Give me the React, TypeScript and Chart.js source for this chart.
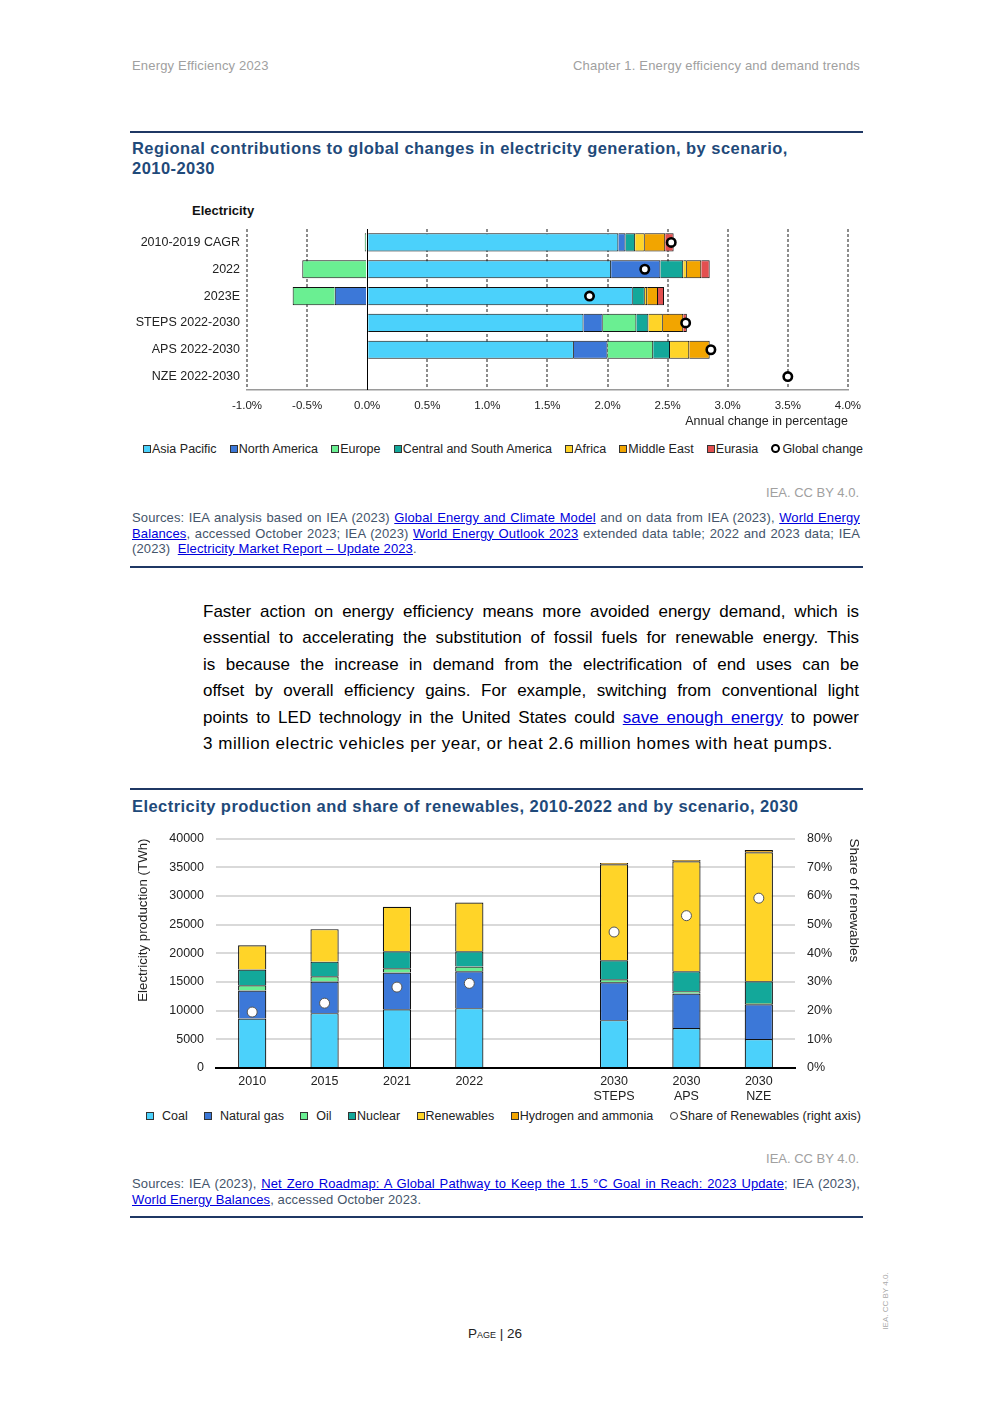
import React, { useEffect, useRef } from 'react';
import { Chart, registerables } from 'chart.js';

Chart.register(...registerables);

const FONT = '"Liberation Sans", Arial, Helvetica, sans-serif';

// ---------------- Chart 1: regional contributions ----------------
const scenarioLabels = ['2010-2019 CAGR', '2022', '2023E', 'STEPS 2022-2030', 'APS 2022-2030', 'NZE 2022-2030'];
const regionNames = ['Asia Pacific', 'North America', 'Europe', 'Central and South America', 'Africa', 'Middle East', 'Eurasia'];
const asiaPacific = [2.09, 2.03, 2.21, 1.8, 1.72, null];
const northAmerica = [0.06, 0.41, -0.27, 0.16, 0.28, null];
const europe = [-0.02, -0.54, -0.35, 0.28, 0.38, null];
const centralSouthAmerica = [0.08, 0.19, 0.1, 0.1, 0.14, null];
const africa = [0.08, 0.03, 0.02, 0.12, 0.16, null];
const middleEast = [0.17, 0.12, 0.09, 0.17, 0.17, null];
const eurasia = [0.07, 0.07, 0.05, 0.03, null, null];
const globalChange = [2.53, 2.31, 1.85, 2.65, 2.86, 3.5];
const pctAxisMin = -1;
const pctAxisMax = 4;
const pctAxisStep = 0.5;

// ---------------- Chart 2: production and renewables share ----------------
const periodLabels: (string | string[])[] = ['2010', '2015', '2021', '2022', '', ['2030', 'STEPS'], ['2030', 'APS'], ['2030', 'NZE']];
const sourceNames = ['Coal', 'Natural gas', 'Oil', 'Nuclear', 'Renewables', 'Hydrogen and ammonia'];
const coal = [8630, 9560, 10250, 10430, null, 8340, 6950, 5040];
const naturalGas = [4870, 5500, 6380, 6430, null, 6610, 6030, 6080];
const oil = [930, 930, 750, 810, null, 520, 410, 230];
const nuclear = [2720, 2550, 2960, 2680, null, 3300, 3480, 3770];
const renewables = [4250, 5660, 7760, 8500, null, 16730, 19170, 22470];
const hydrogenAmmonia = [null, null, null, null, null, 250, 230, 410];
const renewablesShare = [19.5, 22.6, 28.2, 29.5, null, 47.4, 53.1, 59.2];
const twhMax = 40000;
const twhStep = 5000;
const shareMax = 80;
const shareStep = 10;

const palette = ['#4BD1FB', '#3C78D8', '#6AEF92', '#13A89A', '#FFD428', '#F2A500', '#E35050'];

const zeroLinePlugin = {
  id: 'zeroLine',
  beforeDatasetsDraw(chart: any) {
    const x = chart.scales.x.getPixelForValue(0);
    const { top, bottom } = chart.chartArea;
    const ctx = chart.ctx;
    ctx.save();
    ctx.strokeStyle = '#000';
    ctx.lineWidth = 1;
    ctx.beginPath();
    ctx.moveTo(Math.round(x) + 0.5, top);
    ctx.lineTo(Math.round(x) + 0.5, bottom);
    ctx.stroke();
    ctx.restore();
  },
};

function RegionalChart() {
  const ref = useRef<HTMLCanvasElement>(null);
  useEffect(() => {
    const series = [asiaPacific, northAmerica, europe, centralSouthAmerica, africa, middleEast, eurasia];
    const chart = new Chart(ref.current as HTMLCanvasElement, {
      type: 'bar',
      data: {
        labels: scenarioLabels,
        datasets: [
          ...series.map((d, i) => ({
            type: 'bar' as const,
            label: regionNames[i],
            data: d,
            backgroundColor: palette[i],
            borderColor: '#111',
            borderWidth: (c: any) => {
              const v = c.raw;
              return v != null && v < 0
                ? { top: 1, bottom: 1, left: 1, right: 0 }
                : { top: 1, bottom: 1, left: 0, right: 1 };
            },
            borderSkipped: false,
            stack: 'regions',
            barPercentage: 0.68,
            categoryPercentage: 1,
            order: 1,
          })),
          {
            type: 'line' as const,
            label: 'Global change',
            data: globalChange,
            indexAxis: 'y',
            showLine: false,
            pointRadius: 4.2,
            pointBackgroundColor: '#fff',
            pointBorderColor: '#000',
            pointBorderWidth: 2.6,
            stack: 'global',
            order: 0,
          } as any,
        ],
      },
      options: {
        indexAxis: 'y',
        responsive: false,
        animation: false,
        layout: { padding: { top: 28, right: 21, left: 0, bottom: 0 } },
        plugins: { legend: { display: false }, tooltip: { enabled: false } },
        scales: {
          x: {
            type: 'linear',
            min: pctAxisMin,
            max: pctAxisMax,
            stacked: true,
            ticks: {
              stepSize: pctAxisStep,
              callback: (v: any) => Number(v).toFixed(1) + '%',
              color: '#222',
              font: { family: FONT, size: 11.5 },
              padding: 9,
              maxRotation: 0,
              autoSkip: false,
            },
            grid: {
              color: (c: any) => (c.tick && Math.abs(c.tick.value) < 1e-9 ? 'rgba(0,0,0,0)' : '#8c8c8c'),
              lineWidth: 2,
              drawTicks: false,
            },
            border: { display: true, color: '#9a9a9a', width: 1.5, dash: [3, 2] },
            title: {
              display: true,
              text: 'Annual change in percentage',
              align: 'end',
              color: '#222',
              font: { family: FONT, size: 12.5 },
              padding: { top: 0, bottom: 3 },
            },
            afterFit: (s: any) => {
              s.height = 42;
            },
          },
          y: {
            type: 'category',
            stacked: true,
            grid: { display: false, drawTicks: false },
            border: { display: false },
            ticks: { color: '#222', font: { family: FONT, size: 12.5 }, padding: 7 },
            afterFit: (s: any) => {
              s.width = 117;
            },
          },
        },
      } as any,
      plugins: [zeroLinePlugin],
    });
    return () => chart.destroy();
  }, []);
  return <canvas ref={ref} width={740} height={231} style={{ position: 'absolute', left: 130, top: 201, width: 740, height: 231 }} />;
}

function ProductionChart() {
  const ref = useRef<HTMLCanvasElement>(null);
  useEffect(() => {
    const series = [coal, naturalGas, oil, nuclear, renewables, hydrogenAmmonia];
    const chart = new Chart(ref.current as HTMLCanvasElement, {
      type: 'bar',
      data: {
        labels: periodLabels,
        datasets: [
          ...series.map((d, i) => ({
            type: 'bar' as const,
            label: sourceNames[i],
            data: d,
            backgroundColor: palette[i],
            borderColor: '#111',
            borderWidth: { top: 1.2, bottom: 0, left: 1.2, right: 1.2 },
            borderSkipped: false,
            stack: 'gen',
            yAxisID: 'y',
            barPercentage: 0.39,
            categoryPercentage: 1,
            order: 1,
          })),
          {
            type: 'line' as const,
            label: 'Share of Renewables (right axis)',
            data: renewablesShare,
            yAxisID: 'y1',
            showLine: false,
            pointRadius: 5,
            pointBackgroundColor: '#fff',
            pointBorderColor: '#555',
            pointBorderWidth: 1,
            order: 0,
          } as any,
        ],
      },
      options: {
        responsive: false,
        animation: false,
        layout: { padding: { top: 5, right: 0, left: 0, bottom: 0 } },
        plugins: { legend: { display: false }, tooltip: { enabled: false } },
        scales: {
          x: {
            stacked: true,
            grid: { display: false, drawTicks: false },
            border: { display: true, color: '#000', width: 2 },
            ticks: { color: '#222', font: { family: FONT, size: 12.5 }, padding: 6.5, maxRotation: 0, autoSkip: false },
            afterFit: (s: any) => {
              s.height = 37;
            },
          },
          y: {
            stacked: true,
            min: 0,
            max: twhMax,
            position: 'left',
            ticks: { stepSize: twhStep, callback: (v: any) => String(v), color: '#222', font: { family: FONT, size: 12.5 }, padding: 12 },
            grid: { color: '#d9d9d9', lineWidth: 2, drawTicks: false },
            border: { display: false },
            title: {
              display: true,
              text: 'Electricity production (TWh)',
              align: 'end',
              color: '#222',
              font: { family: FONT, size: 13.3 },
              padding: { top: 5.5, bottom: 0 },
            },
            afterFit: (s: any) => {
              s.width = 86;
            },
          },
          y1: {
            min: 0,
            max: shareMax,
            position: 'right',
            ticks: { stepSize: shareStep, callback: (v: any) => v + '%', color: '#222', font: { family: FONT, size: 12.5 }, padding: 12 },
            grid: { display: false, drawTicks: false },
            border: { display: false },
            title: {
              display: true,
              text: 'Share of renewables',
              align: 'end',
              color: '#222',
              font: { family: FONT, size: 13.5 },
              padding: { top: 8, bottom: 0 },
            },
            afterFit: (s: any) => {
              s.width = 75;
            },
          },
        },
      } as any,
    });
    return () => chart.destroy();
  }, []);
  return <canvas ref={ref} width={740} height={286} style={{ position: 'absolute', left: 130, top: 819, width: 740, height: 286 }} />;
}

const linkStyle: React.CSSProperties = { color: '#0000DD', textDecoration: 'underline' };

function JLine({ children, last, style }: { children: any; last?: boolean; style?: any }) {
  return <div style={{ textAlign: last ? 'left' : 'justify', textAlignLast: last ? 'left' : 'justify', ...style } as any}>{children}</div>;
}

function Box({ color, circle, thick }: { color?: string; circle?: boolean; thick?: boolean }) {
  if (circle) {
    return (
      <span
        style={{
          display: 'inline-block',
          width: thick ? 5 : 6,
          height: thick ? 5 : 6,
          borderRadius: '50%',
          border: thick ? '2.5px solid #000' : '1px solid #333',
          background: '#fff',
          marginRight: 2,
          verticalAlign: 'middle',
          position: 'relative',
          top: -1,
        }}
      />
    );
  }
  return (
    <span
      style={{
        display: 'inline-block',
        width: 6,
        height: 6,
        border: '1px solid #333',
        background: color,
        marginRight: 1,
        verticalAlign: 'middle',
        position: 'relative',
        top: -1,
      }}
    />
  );
}

export default function App() {
  const grey = '#a0a0a0';
  const navy = '#1F4A7A';
  const srcColor = '#44546A';
  return (
    <div style={{ position: 'absolute', left: 0, top: 0, width: 992, height: 1403, background: '#fff', fontFamily: FONT, color: '#222' }}>
      {/* header */}
      <div style={{ position: 'absolute', left: 132, top: 58, fontSize: 13, lineHeight: '16px', color: grey, letterSpacing: 0.18 }}>Energy Efficiency 2023</div>
      <div style={{ position: 'absolute', left: 460, width: 400, top: 58, fontSize: 13, lineHeight: '16px', color: grey, textAlign: 'right', letterSpacing: 0.18 }}>
        Chapter 1. Energy efficiency and demand trends
      </div>

      {/* figure 1 */}
      <div style={{ position: 'absolute', left: 130, top: 131, width: 733, height: 1.5, background: '#1F3864' }} />
      <div style={{ position: 'absolute', left: 132, top: 138, width: 730, fontSize: 16.5, lineHeight: '20px', fontWeight: 'bold', color: navy, letterSpacing: 0.45 }}>
        Regional contributions to global changes in electricity generation, by scenario,
        <br />
        2010-2030
      </div>
      <div style={{ position: 'absolute', left: 192, top: 203, fontSize: 13, lineHeight: '16px', fontWeight: 'bold', color: '#111' }}>Electricity</div>
      <RegionalChart />
      <div
        style={{
          position: 'absolute',
          left: 143,
          width: 720,
          top: 441,
          fontSize: 12.5,
          lineHeight: '16px',
          display: 'flex',
          justifyContent: 'space-between',
          whiteSpace: 'nowrap',
          color: '#222',
        }}
      >
        {regionNames.map((n, i) => (
          <span key={n}>
            <Box color={palette[i]} />
            {n}
          </span>
        ))}
        <span>
          <Box circle thick />
          Global change
        </span>
      </div>
      <div style={{ position: 'absolute', left: 600, width: 259, top: 485, fontSize: 13, lineHeight: '16px', color: grey, textAlign: 'right' }}>IEA. CC BY 4.0.</div>
      <div style={{ position: 'absolute', left: 132, width: 728, top: 510, fontSize: 13, lineHeight: '15.5px', color: srcColor, letterSpacing: 0.12 }}>
        <JLine>
          Sources: IEA analysis based on IEA (2023) <span style={linkStyle}>Global Energy and Climate Model</span> and on data from IEA (2023),{' '}
          <span style={linkStyle}>World Energy</span>
        </JLine>
        <JLine>
          <span style={linkStyle}>Balances</span>, accessed October 2023; IEA (2023) <span style={linkStyle}>World Energy Outlook 2023</span> extended data table;
          2022 and 2023 data; IEA
        </JLine>
        <JLine last>
          (2023)&nbsp; <span style={linkStyle}>Electricity Market Report – Update 2023</span>.
        </JLine>
      </div>
      <div style={{ position: 'absolute', left: 130, top: 566, width: 733, height: 2, background: '#1F3864' }} />

      {/* body paragraph */}
      <div style={{ position: 'absolute', left: 203, width: 656, top: 599, fontSize: 17, lineHeight: '26.4px', color: '#000' }}>
        <JLine>Faster action on energy efficiency means more avoided energy demand, which is</JLine>
        <JLine>essential to accelerating the substitution of fossil fuels for renewable energy. This</JLine>
        <JLine>is because the increase in demand from the electrification of end uses can be</JLine>
        <JLine>offset by overall efficiency gains. For example, switching from conventional light</JLine>
        <JLine>
          points to LED technology in the United States could <span style={linkStyle}>save enough energy</span> to power
        </JLine>
        <JLine last style={{ letterSpacing: 0.55 }}>
          3 million electric vehicles per year, or heat 2.6 million homes with heat pumps.
        </JLine>
      </div>

      {/* figure 2 */}
      <div style={{ position: 'absolute', left: 130, top: 788, width: 733, height: 2, background: '#1F3864' }} />
      <div style={{ position: 'absolute', left: 132, top: 796, width: 740, fontSize: 16.5, lineHeight: '20px', fontWeight: 'bold', color: navy, letterSpacing: 0.45 }}>
        Electricity production and share of renewables, 2010-2022 and by scenario, 2030
      </div>
      <ProductionChart />
      <div
        style={{
          position: 'absolute',
          left: 146,
          width: 715,
          top: 1108,
          fontSize: 12.5,
          lineHeight: '16px',
          display: 'flex',
          justifyContent: 'space-between',
          whiteSpace: 'nowrap',
          color: '#222',
        }}
      >
        {sourceNames.map((n, i) => (
          <span key={n}>
            <Box color={palette[i]} />
            {i < 3 ? '\u00a0\u00a0' + n : n}
          </span>
        ))}
        <span>
          <Box circle />
          Share of Renewables (right axis)
        </span>
      </div>
      <div style={{ position: 'absolute', left: 600, width: 259, top: 1151, fontSize: 13, lineHeight: '16px', color: grey, textAlign: 'right' }}>IEA. CC BY 4.0.</div>
      <div style={{ position: 'absolute', left: 132, width: 728, top: 1176, fontSize: 13, lineHeight: '15.5px', color: srcColor, letterSpacing: 0.12 }}>
        <JLine>
          Sources: IEA (2023), <span style={linkStyle}>Net Zero Roadmap: A Global Pathway to Keep the 1.5 °C Goal in Reach: 2023 Update</span>; IEA (2023),
        </JLine>
        <JLine last>
          <span style={linkStyle}>World Energy Balances</span>, accessed October 2023.
        </JLine>
      </div>
      <div style={{ position: 'absolute', left: 130, top: 1216, width: 733, height: 2, background: '#1F3864' }} />

      {/* footer */}
      <div style={{ position: 'absolute', left: 468, top: 1326, fontSize: 13.5, lineHeight: '16px', color: '#222' }}>
        <span style={{ fontVariant: 'small-caps' }}>Page</span> | 26
      </div>
      <div
        style={{
          position: 'absolute',
          left: 886 - 35,
          top: 1301 - 5,
          width: 70,
          height: 10,
          fontSize: 8,
          lineHeight: '10px',
          color: '#aaa',
          textAlign: 'center',
          transform: 'rotate(-90deg)',
          whiteSpace: 'nowrap',
        }}
      >
        IEA. CC BY 4.0.
      </div>
    </div>
  );
}
